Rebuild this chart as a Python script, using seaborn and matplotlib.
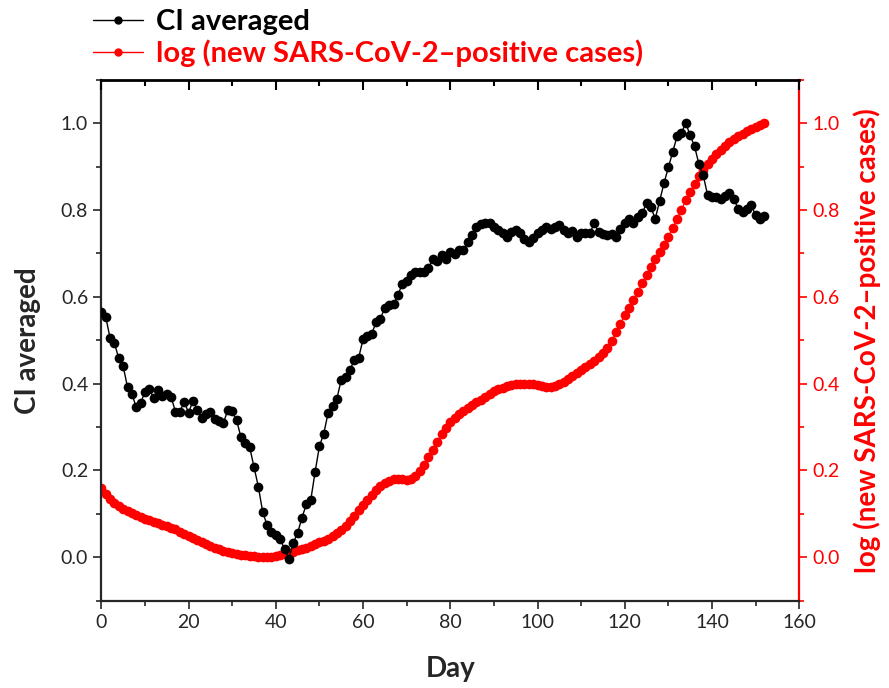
import numpy as np
import pandas as pd
import seaborn as sns
import matplotlib.pyplot as plt
from matplotlib.lines import Line2D
from matplotlib.ticker import MultipleLocator

# CI averaged, one value per day (0..152)
ci_averaged = [
    0.565, 0.554, 0.505, 0.493, 0.458, 0.440, 0.392, 0.377, 0.345, 0.355,
    0.381, 0.387, 0.367, 0.385, 0.371, 0.377, 0.369, 0.335, 0.335, 0.358,
    0.333, 0.360, 0.340, 0.320, 0.331, 0.335, 0.318, 0.314, 0.310, 0.339,
    0.336, 0.316, 0.277, 0.263, 0.254, 0.208, 0.162, 0.104, 0.074, 0.057,
    0.052, 0.043, 0.018, -0.003, 0.033, 0.056, 0.091, 0.122, 0.131, 0.196,
    0.256, 0.285, 0.333, 0.348, 0.365, 0.409, 0.415, 0.431, 0.455, 0.460,
    0.502, 0.509, 0.515, 0.542, 0.550, 0.575, 0.581, 0.583, 0.605, 0.629,
    0.637, 0.651, 0.657, 0.657, 0.657, 0.667, 0.686, 0.683, 0.696, 0.687,
    0.703, 0.698, 0.707, 0.707, 0.727, 0.743, 0.762, 0.767, 0.769, 0.770,
    0.761, 0.753, 0.746, 0.738, 0.750, 0.755, 0.746, 0.734, 0.727, 0.736,
    0.747, 0.753, 0.760, 0.756, 0.760, 0.765, 0.755, 0.746, 0.752, 0.738,
    0.747, 0.747, 0.747, 0.769, 0.750, 0.744, 0.742, 0.744, 0.738, 0.757,
    0.769, 0.780, 0.769, 0.784, 0.792, 0.816, 0.806, 0.780, 0.821, 0.862,
    0.898, 0.934, 0.970, 0.978, 1.000, 0.972, 0.947, 0.906, 0.880, 0.834,
    0.830, 0.829, 0.826, 0.832, 0.839, 0.826, 0.803, 0.796, 0.803, 0.811,
    0.788, 0.780, 0.786,
]

# normalised log of new positive cases, one value per day (0..152)
log_cases = [
    0.160, 0.146, 0.135, 0.126, 0.119, 0.112, 0.106, 0.101, 0.097, 0.093,
    0.089, 0.085, 0.081, 0.078, 0.075, 0.072, 0.068, 0.064, 0.059, 0.054,
    0.049, 0.044, 0.039, 0.034, 0.030, 0.025, 0.021, 0.018, 0.015, 0.012,
    0.010, 0.008, 0.006, 0.004, 0.003, 0.002, 0.001, 0.000, 0.000, 0.001,
    0.003, 0.005, 0.007, 0.010, 0.013, 0.016, 0.019, 0.022, 0.026, 0.030,
    0.034, 0.038, 0.043, 0.049, 0.055, 0.063, 0.072, 0.083, 0.095, 0.108,
    0.120, 0.132, 0.144, 0.155, 0.164, 0.171, 0.176, 0.180, 0.181, 0.180,
    0.179, 0.181, 0.187, 0.198, 0.212, 0.230, 0.248, 0.266, 0.283, 0.298,
    0.311, 0.321, 0.330, 0.337, 0.344, 0.351, 0.357, 0.363, 0.370, 0.376,
    0.382, 0.387, 0.391, 0.394, 0.397, 0.399, 0.400, 0.400, 0.400, 0.399,
    0.397, 0.395, 0.393, 0.393, 0.395, 0.399, 0.404, 0.411, 0.418, 0.425,
    0.432, 0.439, 0.446, 0.453, 0.461, 0.471, 0.483, 0.499, 0.518, 0.538,
    0.557, 0.575, 0.593, 0.612, 0.631, 0.650, 0.669, 0.686, 0.703, 0.720,
    0.738, 0.759, 0.780, 0.801, 0.822, 0.842, 0.861, 0.878, 0.892, 0.906,
    0.918, 0.929, 0.939, 0.948, 0.956, 0.964, 0.970, 0.976, 0.981, 0.986,
    0.991, 0.996, 1.000,
]

days = list(range(len(ci_averaged)))
x_ticks = [0, 20, 40, 60, 80, 100, 120, 140, 160]
y_ticks = [0.0, 0.2, 0.4, 0.6, 0.8, 1.0]

df = pd.DataFrame({"Day": days, "CI": ci_averaged, "Cases": log_cases})

sns.set_style("ticks")
plt.rcParams['font.family'] = ['Lato', 'DejaVu Sans']

fig = plt.figure(figsize=(8.89, 6.88), dpi=100)
ax = fig.add_axes([0.114, 0.127, 0.785, 0.757])
ax2 = ax.twinx()

red = "#ff0000"

sns.lineplot(data=df, x="Day", y="Cases", ax=ax2, color=red, lw=0.8,
             marker="o", markersize=7, markeredgewidth=0, zorder=2)
sns.lineplot(data=df, x="Day", y="CI", ax=ax, color="black", lw=1.0,
             marker="o", markersize=7, markeredgewidth=0, zorder=3)

# keep the black curve above the red one
ax.set_zorder(ax2.get_zorder() + 1)
ax.patch.set_visible(False)

for a in (ax, ax2):
    a.set_xlim(0, 160)
    a.set_ylim(-0.1, 1.1)

ax.set_xticks(x_ticks)
ax.xaxis.set_minor_locator(MultipleLocator(10))
ax.set_yticks(y_ticks)
ax.yaxis.set_minor_locator(MultipleLocator(0.1))
ax.set_yticklabels([f"{v:.1f}" for v in y_ticks])
ax2.set_yticks(y_ticks)
ax2.yaxis.set_minor_locator(MultipleLocator(0.1))
ax2.set_yticklabels([f"{v:.1f}" for v in y_ticks])

ax.tick_params(axis="both", which="major", length=6, width=1.2, labelsize=14, direction="out")
ax.tick_params(axis="both", which="minor", length=3.5, width=1.2, direction="out")
ax2.tick_params(axis="y", which="major", length=6, width=1.2, labelsize=14,
                colors=red, direction="out")
ax2.tick_params(axis="y", which="minor", length=3.5, width=1.2, colors=red, direction="out")

# top edge of the frame with inward ticks, drawn as a separate overlay
top = fig.add_axes(ax.get_position(), sharex=ax)
top.set_zorder(ax.get_zorder() + 1)
top.patch.set_visible(False)
top.set_yticks([])
top.xaxis.tick_top()
top.set_xticks(x_ticks)
top.xaxis.set_minor_locator(MultipleLocator(10))
top.tick_params(axis="x", which="both", direction="in", width=1.5,
                top=True, bottom=False, labeltop=False, labelbottom=False,
                colors="black")
top.tick_params(axis="x", which="major", length=7)
top.tick_params(axis="x", which="minor", length=4)
for s in ("left", "right", "bottom"):
    top.spines[s].set_visible(False)
top.spines["top"].set_visible(True)
top.spines["top"].set_linewidth(2.0)
top.spines["top"].set_color("black")

for s in ("left", "bottom"):
    ax.spines[s].set_linewidth(1.6)
ax.spines["top"].set_visible(False)
ax2.spines["top"].set_visible(False)
ax.spines["right"].set_visible(False)
ax2.spines["right"].set_color(red)
ax2.spines["right"].set_linewidth(1.6)
ax2.spines["left"].set_visible(False)
ax2.spines["bottom"].set_visible(False)

ax.set_xlabel("Day", fontsize=20, fontweight="bold", labelpad=18)
ax.set_ylabel("CI averaged", fontsize=20, fontweight="bold", labelpad=14)
ax2.set_ylabel("log (new SARS-CoV-2\u2013positive cases)", fontsize=20,
               fontweight="bold", color=red, labelpad=10)

handles = [
    Line2D([], [], color="black", lw=1.0, marker="o", markersize=5),
    Line2D([], [], color=red, lw=1.0, marker="o", markersize=5),
]
leg = fig.legend(handles, ["CI averaged", "log (new SARS-CoV-2\u2013positive cases)"],
                 loc="upper left", bbox_to_anchor=(0.085, 1.012), frameon=False,
                 prop={"size": 21, "weight": "bold"}, handlelength=1.7,
                 handletextpad=0.45, labelspacing=0.15, borderaxespad=0.2)
for txt, col in zip(leg.get_texts(), ["black", red]):
    txt.set_color(col)

fig.savefig("out.png", dpi=100)
